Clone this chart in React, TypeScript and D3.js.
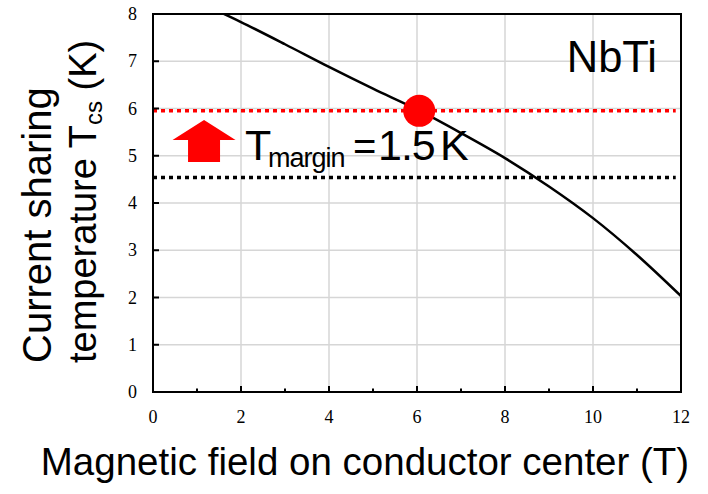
import React, { useEffect, useRef } from 'react';
import * as d3 from 'd3';

// Tcs vs field curve
const fieldT = [1.5, 2, 3, 4, 5, 6, 7, 8, 9, 10, 11, 12];
const tcsK = [8.05, 7.83, 7.36, 6.88, 6.42, 5.98, 5.48, 4.95, 4.35, 3.68, 2.9, 2.03];

const xTicks = [0, 2, 4, 6, 8, 10, 12];
const yTicks = [0, 1, 2, 3, 4, 5, 6, 7, 8];

const operatingPoint = { field: 6.05, temp: 5.95 };
const tcsLine = 5.95;
const opTempLine = 4.54;

const SANS = "'Liberation Sans', Arial, Helvetica, sans-serif";
const SERIF = "'Liberation Serif', 'Times New Roman', serif";

const App = () => {
  const svgRef = useRef<SVGSVGElement | null>(null);

  useEffect(() => {
    if (!svgRef.current) return;
    d3.select(svgRef.current).selectAll('*').remove();

    const width = 708;
    const height = 494;
    const margin = { top: 14, right: 27, bottom: 102, left: 153 };

    const svg = d3.select(svgRef.current)
      .attr('width', width)
      .attr('height', height)
      .style('background', '#fff');

    const x = d3.scaleLinear().domain([0, 12]).range([margin.left, width - margin.right]);
    const y = d3.scaleLinear().domain([0, 8]).range([height - margin.bottom, margin.top]);

    // clip for the curve
    svg.append('clipPath').attr('id', 'plot-clip')
      .append('rect')
      .attr('x', x(0)).attr('y', y(8))
      .attr('width', x(12) - x(0)).attr('height', y(0) - y(8));

    // grid
    const grid = svg.append('g');
    xTicks.slice(1, -1).forEach(t => {
      grid.append('line')
        .attr('x1', x(t)).attr('x2', x(t))
        .attr('y1', y(0)).attr('y2', y(8))
        .attr('stroke', '#d6d6d6').attr('stroke-width', 1.5);
    });
    yTicks.slice(1, -1).forEach(t => {
      grid.append('line')
        .attr('x1', x(0)).attr('x2', x(12))
        .attr('y1', y(t)).attr('y2', y(t))
        .attr('stroke', '#d6d6d6').attr('stroke-width', 1.5);
    });

    // reference lines
    svg.append('line')
      .attr('x1', x(0)).attr('x2', x(11.88))
      .attr('y1', y(tcsLine)).attr('y2', y(tcsLine))
      .attr('stroke', '#ff0000').attr('stroke-width', 3.5)
      .attr('stroke-dasharray', '4,4');
    svg.append('line')
      .attr('x1', x(0)).attr('x2', x(11.88))
      .attr('y1', y(opTempLine)).attr('y2', y(opTempLine))
      .attr('stroke', '#000').attr('stroke-width', 3.5)
      .attr('stroke-dasharray', '4,4');

    // curve
    const line = d3.line<number>()
      .x((d, i) => x(fieldT[i]))
      .y(d => y(d))
      .curve(d3.curveCatmullRom.alpha(0.5));
    svg.append('path')
      .datum(tcsK)
      .attr('d', line)
      .attr('clip-path', 'url(#plot-clip)')
      .attr('fill', 'none')
      .attr('stroke', '#000')
      .attr('stroke-width', 2.5);

    // frame
    svg.append('rect')
      .attr('x', x(0)).attr('y', y(8))
      .attr('width', x(12) - x(0)).attr('height', y(0) - y(8))
      .attr('fill', 'none').attr('stroke', '#000').attr('stroke-width', 2);

    // ticks (inside)
    d3.range(0, 13).forEach(t => {
      const len = t % 2 === 0 ? 6 : 3.5;
      svg.append('line')
        .attr('x1', x(t)).attr('x2', x(t))
        .attr('y1', y(0)).attr('y2', y(0) - len)
        .attr('stroke', '#000').attr('stroke-width', 2);
    });
    yTicks.forEach(t => {
      svg.append('line')
        .attr('x1', x(0)).attr('x2', x(0) + 6)
        .attr('y1', y(t)).attr('y2', y(t))
        .attr('stroke', '#000').attr('stroke-width', 2);
    });

    // tick labels
    xTicks.forEach(t => {
      svg.append('text')
        .attr('x', x(t)).attr('y', y(0) + 31)
        .attr('text-anchor', 'middle')
        .attr('font-family', SERIF).attr('font-size', 18)
        .attr('fill', '#000')
        .text(t);
    });
    yTicks.forEach(t => {
      svg.append('text')
        .attr('x', x(0) - 16).attr('y', y(t) + 6)
        .attr('text-anchor', 'end')
        .attr('font-family', SERIF).attr('font-size', 18)
        .attr('fill', '#000')
        .text(t);
    });

    // axis titles
    svg.append('text')
      .attr('x', 365).attr('y', 475)
      .attr('text-anchor', 'middle')
      .attr('font-family', SANS).attr('font-size', 38.5)
      .attr('fill', '#000')
      .text('Magnetic field on conductor center (T)');

    const yTitle = svg.append('g').attr('transform', 'translate(0,363) rotate(-90)');
    yTitle.append('text')
      .attr('x', 0).attr('y', 51)
      .attr('font-family', SANS).attr('font-size', 40)
      .attr('fill', '#000')
      .text('Current sharing');
    const t2 = yTitle.append('text')
      .attr('x', 0).attr('y', 96)
      .attr('font-family', SANS).attr('font-size', 38)
      .attr('fill', '#000');
    t2.append('tspan').text('temperature T');
    t2.append('tspan').attr('font-size', 24).attr('dy', 6).text('cs');
    t2.append('tspan').attr('dy', -6).text(' (K)');

    // operating point marker
    svg.append('circle')
      .attr('cx', x(operatingPoint.field)).attr('cy', y(operatingPoint.temp))
      .attr('r', 16)
      .attr('fill', '#ff0000');

    // NbTi label
    svg.append('text')
      .attr('x', 657).attr('y', 72)
      .attr('text-anchor', 'end')
      .attr('font-family', SANS).attr('font-size', 43.5)
      .attr('fill', '#000')
      .text('NbTi');

    // red arrow (up)
    const ax = x(1.16);
    const ab = y(4.87);
    const arrow = [
      [ax - 16, ab], [ax + 16, ab], [ax + 16, ab - 22], [ax + 31.5, ab - 22],
      [ax, ab - 42], [ax - 31.5, ab - 22], [ax - 16, ab - 22],
    ];
    svg.append('polygon')
      .attr('points', arrow.map(p => p.join(',')).join(' '))
      .attr('fill', '#ff0000');

    // T_margin = 1.5 K
    svg.append('text')
      .attr('x', 245).attr('y', 160)
      .attr('font-family', SANS).attr('font-size', 43)
      .attr('fill', '#000')
      .text('T');
    svg.append('text')
      .attr('x', 268).attr('y', 167)
      .attr('font-family', SANS).attr('font-size', 27)
      .attr('letter-spacing', -1)
      .attr('fill', '#000')
      .text('margin');
    svg.append('text')
      .attr('x', 353).attr('y', 160)
      .attr('font-family', SANS).attr('font-size', 40)
      .attr('fill', '#000')
      .text('=');
    svg.append('text')
      .attr('x', 378).attr('y', 160)
      .attr('font-family', SANS).attr('font-size', 43)
      .attr('letter-spacing', -1)
      .attr('fill', '#000')
      .text('1.5');
    svg.append('text')
      .attr('x', 440).attr('y', 160)
      .attr('font-family', SANS).attr('font-size', 43)
      .attr('fill', '#000')
      .text('K');
  }, []);

  return (
    <div style={{ position: 'absolute', left: 0, top: 0 }}>
      <svg ref={svgRef} style={{ display: 'block' }}></svg>
    </div>
  );
};

export default App;
